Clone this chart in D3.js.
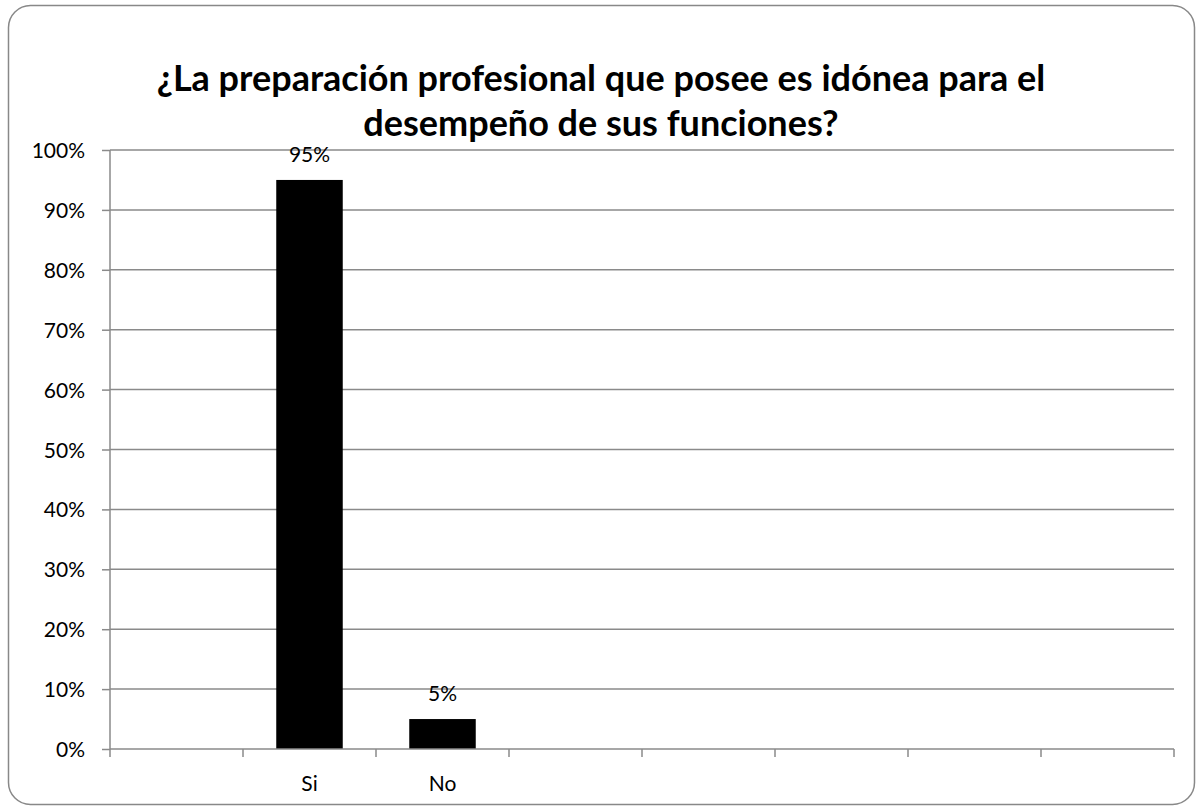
<!DOCTYPE html>
<html><head><meta charset="utf-8">
<script src="https://cdn.jsdelivr.net/npm/d3@7"></script>
<style>body{margin:0;background:#fff;} svg{display:block;}</style>
</head><body>
<svg id="chart" width="1203" height="812"></svg>
<script>
const categories = ["", "Si", "No", "", "", "", "", ""];
const values = [null, 0.95, 0.05, null, null, null, null, null];
const dataLabels = ["", "95%", "5%", "", "", "", "", ""];
const yTicks = [0, 0.1, 0.2, 0.3, 0.4, 0.5, 0.6, 0.7, 0.8, 0.9, 1.0];
const titleLines = ["¿La preparación profesional que posee es idónea para el", "desempeño de sus funciones?"];

const font = "Lato, 'Open Sans', sans-serif";
const svg = d3.select("#chart");
svg.append("rect").attr("x", 8.5).attr("y", 5.5).attr("width", 1186).attr("height", 799)
  .attr("rx", 22).attr("fill", "#fff").attr("stroke", "#888").attr("stroke-width", 1.5);

const m = {left: 110, right: 1174, top: 150, bottom: 749};
const keys = categories.map((c, i) => i);
const x = d3.scaleBand().domain(keys).range([m.left, m.right]).paddingInner(0.5).paddingOuter(0.25);
const xs = d3.scaleBand().domain(keys).range([m.left, m.right]);
const y = d3.scaleLinear().domain([0, 1]).range([m.bottom, m.top]);

// gridlines
svg.append("g").selectAll("line").data(yTicks.filter(d => d > 0)).join("line")
  .attr("x1", m.left).attr("x2", m.right).attr("y1", d => y(d)).attr("y2", d => y(d))
  .attr("stroke", "#8a8a8a").attr("stroke-width", 1.5);

// y axis
const ya = svg.append("g").attr("transform", `translate(${m.left},0)`)
  .call(d3.axisLeft(y).tickValues(yTicks).tickFormat(d3.format(".0%")).tickSize(8).tickPadding(17));
ya.select(".domain").attr("stroke", "#8a8a8a").attr("stroke-width", 1.5).attr("d", `M0,${m.top}V${m.bottom}`);
ya.selectAll(".tick line").attr("stroke", "#8a8a8a").attr("stroke-width", 1.5);
ya.selectAll("text").attr("font-family", font).attr("font-size", 21).attr("fill", "#000").attr("dy", "0.36em");

// bars
svg.append("g").selectAll("rect").data(keys.filter(i => values[i] != null)).join("rect")
  .attr("x", i => x(i)).attr("width", x.bandwidth())
  .attr("y", i => y(values[i])).attr("height", i => y(0) - y(values[i]))
  .attr("fill", "#000");

// x axis
const xa = svg.append("g").attr("transform", `translate(0,${m.bottom})`);
xa.append("line").attr("x1", m.left).attr("x2", m.right).attr("stroke", "#8a8a8a").attr("stroke-width", 1.5);
const bounds = keys.map(i => xs(i)).concat([m.right]);
xa.selectAll("line.tk").data(bounds).join("line").attr("class", "tk")
  .attr("x1", d => d).attr("x2", d => d).attr("y1", 0).attr("y2", 8)
  .attr("stroke", "#8a8a8a").attr("stroke-width", 1.5);
xa.selectAll("text").data(keys).join("text")
  .attr("x", i => xs(i) + xs.bandwidth() / 2).attr("y", 42)
  .attr("text-anchor", "middle").attr("font-family", font).attr("font-size", 21)
  .text(i => categories[i]);

// data labels
svg.append("g").selectAll("text").data(keys.filter(i => values[i] != null)).join("text")
  .attr("x", i => x(i) + x.bandwidth() / 2).attr("y", i => y(values[i]) - 18)
  .attr("text-anchor", "middle").attr("font-family", font).attr("font-size", 21)
  .text(i => dataLabels[i]);

// title
svg.append("g").selectAll("text").data(titleLines).join("text")
  .attr("x", 601).attr("y", (d, i) => 91 + i * 45)
  .attr("text-anchor", "middle").attr("font-family", font).attr("font-weight", "bold")
  .attr("font-size", 36).text(d => d);
</script>
</body></html>
